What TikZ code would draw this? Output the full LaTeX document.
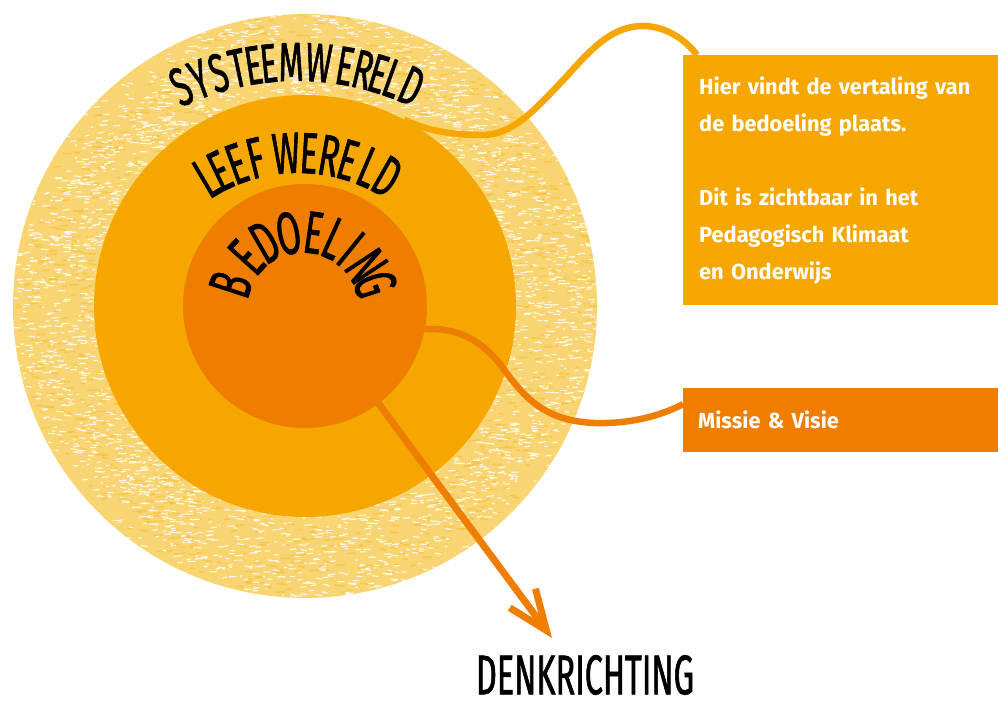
\documentclass[tikz,border=0pt]{standalone}
\usepackage{fontspec}
\newfontfamily\boxfont{Fira Sans}
\newfontfamily\brushfont{Fira Sans}[FakeStretch=0.58,FakeBold=1]
\usetikzlibrary{arrows.meta}
\definecolor{ringyellow}{HTML}{F9D472}
\definecolor{ringdeep}{HTML}{F6BE2C}
\definecolor{lifeorange}{HTML}{F5A700}
\definecolor{coreorange}{HTML}{EE7D00}

\begin{document}
\begin{tikzpicture}[x=1pt,y=1pt,
  world/.style={circle,inner sep=0pt,outer sep=0pt},
  letter/.style={font=\brushfont\fontsize{#1}{#1}\selectfont,inner sep=0pt,text=black},
  infobox/.style={fill=#1,inner xsep=16pt,inner ysep=0pt,text=white,align=left,anchor=north west,font=\boxfont\bfseries\fontsize{21.8}{37}\selectfont},
  wiggle/.style={line width=6.5pt,draw=#1}]
\tikzstyle{speck} = [line width=1.2pt,white,opacity=0.8]

\useasboundingbox (0,0) rectangle (998,704);
\coordinate (cen) at (305,398);

% systeemwereld ring, crayon look
\fill[ringyellow] (cen) circle (292);
\begin{scope}
\clip (cen) circle (292);
\pgfmathsetseed{11}
\foreach \k in {1,...,900}
  \draw[ringdeep,opacity=0.5,line width=1.6pt] ([shift={({rnd*360}:{200+rnd*95})}]cen) -- ++({3+rnd*8},{rnd*3-1.5});
\foreach \k in {1,...,2600}
  \draw[speck] ([shift={({rnd*360}:{200+rnd*95})}]cen) -- ++({2+rnd*6},{rnd*2-1});
\end{scope}

% leefwereld and bedoeling
\node[world,fill=lifeorange,minimum size=422pt] (life) at (cen) {};
\node[world,fill=coreorange,minimum size=244pt] (core) at (cen) {};

% curved titles
\coordinate (sysc) at (297,357);
\foreach \ch/\ang [count=\i] in {S/114,Y/110,S/106,T/102,E/98.8,E/95.7,M/91.2,W/85.6,E/80.3,R/76.6,E/73.4,L/70.3,D/66.3}
  \node[letter=55,rotate=\ang-90] (sys\i) at ([shift={(\ang:285)}]sysc) {\ch};

\coordinate (leefc) at (298,371);
\foreach \ch/\ang [count=\i] in {L/120.6,E/115.7,E/109.9,F/103.6,W/93.8,E/86.5,R/80,E/73.9,L/66.9,D/60.3}
  \node[letter=58,rotate=\ang-90] (leef\i) at ([shift={(\ang:180)}]leefc) {\ch};

\coordinate (bedc) at (303,396);
\foreach \ch/\ang [count=\i] in {B/162,E/138,D/120,O/101,E/82,L/65.6,I/51,N/33.5,G/18.2}
  \node[letter=60,rotate=\ang-90] (bed\i) at ([shift={(\ang:76)}]bedc) {\ch};

% text boxes
\node[infobox=lifeorange,minimum width=315pt,minimum height=250pt,text width=283pt] (vertaling) at (683,649)
  {Hier vindt de vertaling van\\de bedoeling plaats.\\[37pt]Dit is zichtbaar in het\\Pedagogisch Klimaat\\en Onderwijs};
\node[infobox=coreorange,minimum width=315pt,minimum height=64pt,text width=285pt,inner xsep=15pt] (missie) at (683,316)
  {Missie \& Visie};

% connectors
\draw[wiggle=lifeorange] (life.62) .. controls (430,572) and (455,569) .. (483,569)
  .. controls (515,569) and (540,600) .. (567,628)
  .. controls (595,660) and (615,678) .. (643,678)
  .. controls (665,678) and (685,665) .. ([xshift=14pt]vertaling.north west);
\draw[wiggle=coreorange] (core.-11) .. controls (455,377) and (480,365) .. (500,340)
  .. controls (525,305) and (545,283) .. (595,281)
  .. controls (630,280) and (660,288) .. ([yshift=16pt]missie.west);

% denkrichting
\coordinate (arrowtip) at (552,66);
\node[letter=56] (denk) at (585,29) {DENKRICHTING};
\draw[coreorange,line width=7pt,-{Straight Barb[length=40pt,width=32pt,sharp]}] (core.-53) -- (arrowtip);
\end{tikzpicture}
\end{document}
